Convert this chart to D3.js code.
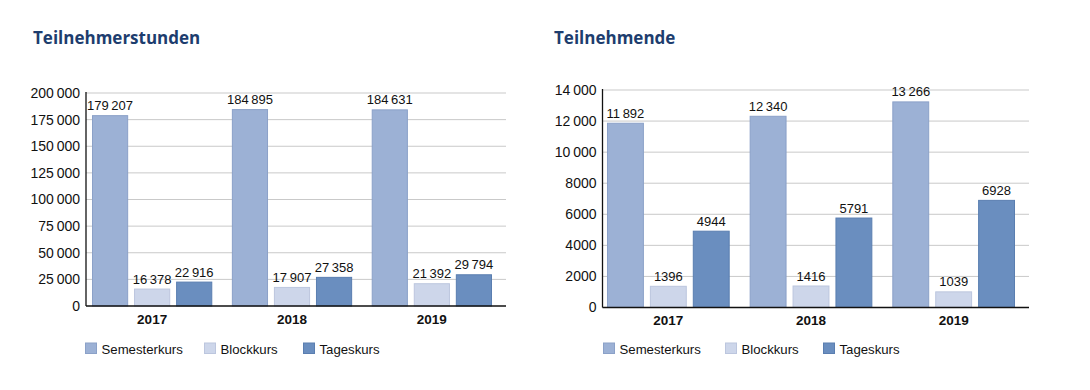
<!DOCTYPE html>
<html><head><meta charset="utf-8">
<script src="https://cdn.jsdelivr.net/npm/d3@7"></script>
<style>
html,body{margin:0;padding:0;background:#fff;}
svg text{font-family:"Liberation Sans",Arial,sans-serif;}
</style></head>
<body><svg id="c" width="1090" height="390"></svg>
<script>
const years = ["2017", "2018", "2019"];
const seriesNames = ["Semesterkurs", "Blockkurs", "Tageskurs"];
const seriesColors = ["#9cb1d5", "#cdd6ea", "#6a8ebf"];
const seriesStroke = ["#8ba1c8", "#bcc6de", "#5a7eb0"];

const stundenSemester = [179207, 184895, 184631];
const stundenBlock = [16378, 17907, 21392];
const stundenTages = [22916, 27358, 29794];
const stundenTicks = [0, 25000, 50000, 75000, 100000, 125000, 150000, 175000, 200000];

const teilnSemester = [11892, 12340, 13266];
const teilnBlock = [1396, 1416, 1039];
const teilnTages = [4944, 5791, 6928];
const teilnTicks = [0, 2000, 4000, 6000, 8000, 10000, 12000, 14000];

const titles = ["Teilnehmerstunden", "Teilnehmende"];

const fmt = n => n >= 10000 ? d3.format(",")(n).replace(/,/g, "\u2009") : String(n);

const svg = d3.select("#c");

const panels = [
  {title: titles[0], titleX: 33, axisX: 86, gridEnd: 506, barStart: 92, barEnd: 492,
   y0: 306, yTop: 93, max: 200000, ticks: stundenTicks,
   values: [stundenSemester, stundenBlock, stundenTages], legendX: [85, 204, 303]},
  {title: titles[1], titleX: 554, axisX: 602.5, gridEnd: 1029, barStart: 607, barEnd: 1015,
   y0: 307.5, yTop: 90, max: 14000, ticks: teilnTicks,
   values: [teilnSemester, teilnBlock, teilnTages], legendX: [603, 725, 823]}
];

panels.forEach(p => {
  const g = svg.append("g");
  g.append("text").attr("x", p.titleX).attr("y", 44)
    .style("font-family", "'Open Sans', sans-serif")
    .attr("font-weight", "bold").attr("font-size", 17).attr("fill", "#1d3d6e")
    .text(p.title);

  const y = d3.scaleLinear().domain([0, p.max]).range([p.y0, p.yTop]);
  const x0 = d3.scaleBand().domain(years).range([p.barStart, p.barEnd]).paddingInner(0.14).paddingOuter(0);
  const x1 = d3.scaleBand().domain(seriesNames).range([0, x0.bandwidth()]).paddingInner(0.14).paddingOuter(0);

  // gridlines
  g.selectAll("line.grid").data(p.ticks.filter(t => t > 0)).join("line")
    .attr("x1", p.axisX).attr("x2", p.gridEnd)
    .attr("y1", d => y(d)).attr("y2", d => y(d))
    .attr("stroke", "#c9c9c9").attr("stroke-width", 1);

  // y tick labels
  const yAxis = d3.axisLeft(y).tickValues(p.ticks).tickSize(0).tickPadding(6).tickFormat(fmt);
  const ya = g.append("g").attr("transform", `translate(${p.axisX},0)`).call(yAxis);
  ya.select(".domain").remove();
  ya.selectAll("text").attr("font-size", 14).attr("fill", "#111").attr("font-family", "Liberation Sans, Arial, sans-serif");

  // bars
  seriesNames.forEach((s, si) => {
    const vals = p.values[si];
    const gs = g.append("g");
    gs.selectAll("rect").data(years).join("rect")
      .attr("x", d => x0(d) + x1(s) + 0.5)
      .attr("y", (d, i) => y(vals[i]) + 0.5)
      .attr("width", x1.bandwidth() - 1)
      .attr("height", (d, i) => Math.max(0, p.y0 - y(vals[i]) - 0.5))
      .attr("fill", seriesColors[si]).attr("stroke", seriesStroke[si]).attr("stroke-width", 1);
    gs.selectAll("text").data(years).join("text")
      .attr("x", d => x0(d) + x1(s) + x1.bandwidth() / 2)
      .attr("y", (d, i) => y(vals[i]) - 5)
      .attr("text-anchor", "middle").attr("font-size", 13).attr("fill", "#111")
      .text((d, i) => fmt(vals[i]));
  });

  // axes lines
  g.append("line").attr("x1", p.axisX).attr("x2", p.axisX).attr("y1", p.yTop - 1).attr("y2", p.y0)
    .attr("stroke", "#111").attr("stroke-width", 1.3);
  g.append("line").attr("x1", p.axisX).attr("x2", p.gridEnd).attr("y1", p.y0).attr("y2", p.y0)
    .attr("stroke", "#111").attr("stroke-width", 1.6);

  // year labels
  g.selectAll("text.year").data(years).join("text").attr("class", "year")
    .attr("x", d => x0(d) + x0.bandwidth() / 2).attr("y", p.y0 + 17.5)
    .attr("text-anchor", "middle").attr("font-size", 13.5).attr("font-weight", "bold").attr("fill", "#111")
    .text(d => d);

  // legend
  seriesNames.forEach((s, si) => {
    const lx = p.legendX[si];
    g.append("rect").attr("x", lx + 0.5).attr("y", 343).attr("width", 11).attr("height", 10.5)
      .attr("fill", seriesColors[si]).attr("stroke", seriesStroke[si]).attr("stroke-width", 1);
    g.append("text").attr("x", lx + 16.5).attr("y", 353.5).attr("font-size", 13.2).attr("fill", "#111").text(s);
  });
});
</script></body></html>
